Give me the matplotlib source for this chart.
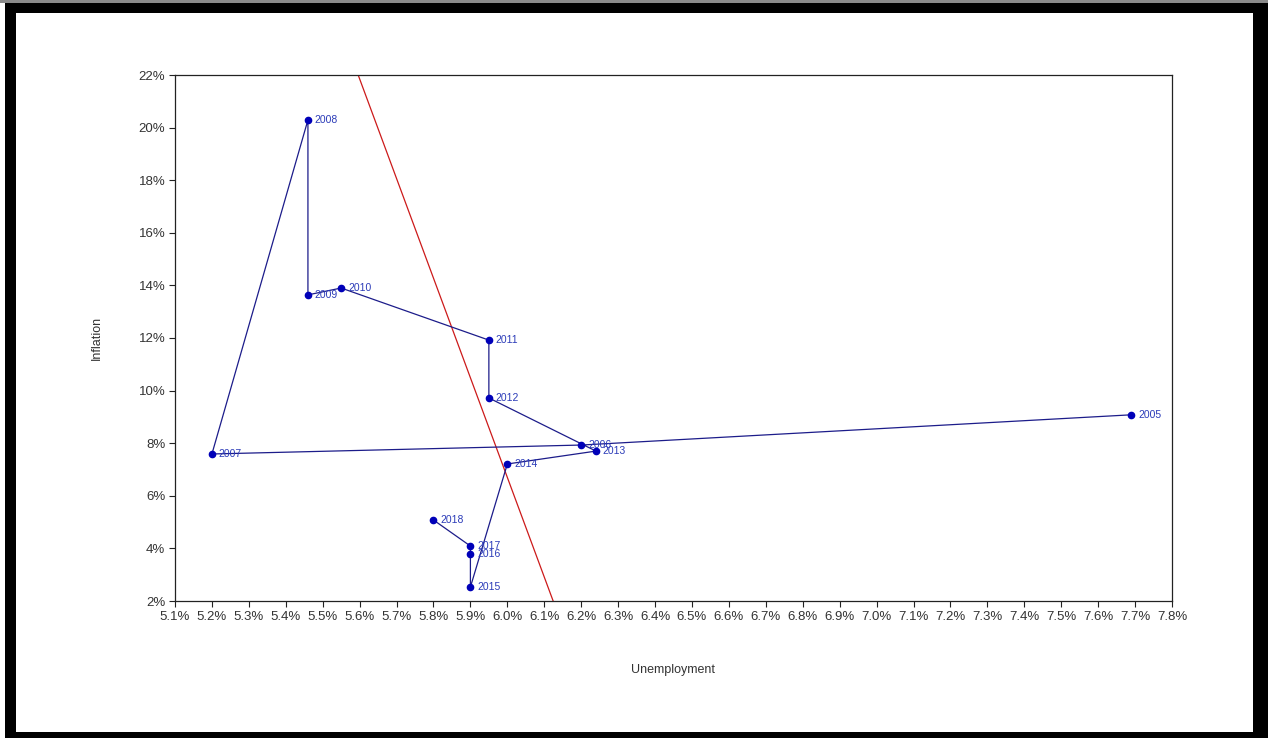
import matplotlib
matplotlib.use("Agg")
import matplotlib.pyplot as plt
from matplotlib.patches import Rectangle
from matplotlib.ticker import FuncFormatter, MultipleLocator
import numpy as np

plt.rcParams['font.family'] = ['Liberation Sans', 'DejaVu Sans']

# Annual unemployment vs inflation (percent)
years = ['2005', '2006', '2007', '2008', '2009', '2010', '2011', '2012',
         '2013', '2014', '2015', '2016', '2017', '2018']
unemployment = [7.69, 6.20, 5.20, 5.46, 5.46, 5.55, 5.95, 5.95,
                6.24, 6.00, 5.90, 5.90, 5.90, 5.80]
inflation = [9.08, 7.93, 7.59, 20.29, 13.64, 13.90, 11.92, 9.72,
             7.70, 7.21, 2.53, 3.79, 4.09, 5.08]

# Fitted trend line: inflation = intercept + slope * unemployment
trend_intercept = 233.98
trend_slope = -37.88

W, H = 1268, 738
fig = plt.figure(figsize=(W / 100, H / 100), dpi=100)
fig.patch.set_facecolor('black')
# white page inside the black frame
fig.add_artist(Rectangle((16 / W, 6 / H), (1253 - 16) / W, (732 - 13) / H,
                         transform=fig.transFigure, facecolor='white',
                         edgecolor='none', zorder=0))
fig.add_artist(Rectangle((0, 0), 5 / W, 1, transform=fig.transFigure,
                         facecolor='white', edgecolor='none', zorder=0))
fig.add_artist(Rectangle((0, 1 - 3 / H), 1, 3 / H, transform=fig.transFigure,
                         facecolor='#8a8a8a', edgecolor='none', zorder=0))

ax = fig.add_axes([175 / W, 1 - 601 / H, (1172 - 175) / W, (601 - 75) / H])
ax.set_facecolor('white')

ax.plot(unemployment, inflation, color='#1c1c8a', linewidth=0.9, zorder=3)
ax.plot(unemployment, inflation, linestyle='none', marker='o', markersize=4.5,
        color='#0000b8', zorder=4)
for yr, x, y in zip(years, unemployment, inflation):
    ax.annotate(yr, (x, y), xytext=(5, 0), textcoords='offset points',
                va='center', ha='left', fontsize=7.5, color='#2b3bb8', zorder=5)

xs = np.array([5.0, 8.0])
ax.plot(xs, trend_intercept + trend_slope * xs, color='#cc1a1a', linewidth=0.9, zorder=2)

ax.set_xlim(5.1, 7.8)
ax.set_ylim(2, 22)
ax.xaxis.set_major_locator(MultipleLocator(0.1))
ax.yaxis.set_major_locator(MultipleLocator(2))
ax.xaxis.set_major_formatter(FuncFormatter(lambda v, p: f"{v:.1f}%"))
ax.yaxis.set_major_formatter(FuncFormatter(lambda v, p: f"{v:.0f}%"))
ax.tick_params(axis='both', direction='out', length=4, width=0.8, color='#222222',
               labelsize=9.5, labelcolor='#333333', pad=3)
for s in ax.spines.values():
    s.set_linewidth(0.9)
    s.set_color('#222222')

ax.set_xlabel('Unemployment', fontsize=9, color='#333333', labelpad=30)
ax.set_ylabel('Inflation', fontsize=9, color='#333333', labelpad=26)

fig.savefig('out.png', dpi=100, facecolor=fig.get_facecolor())
